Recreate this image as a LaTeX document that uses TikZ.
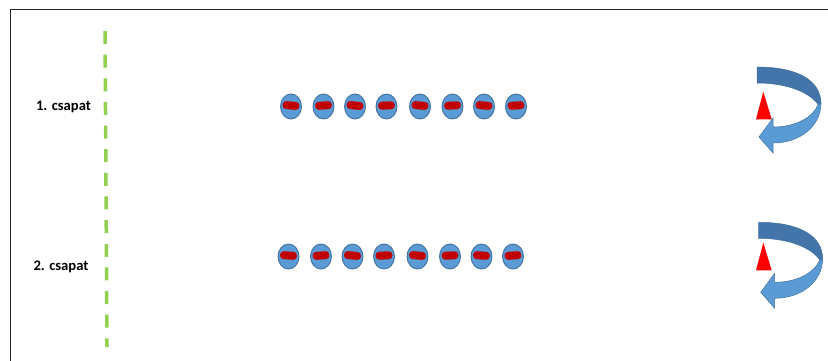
\documentclass[tikz,border=0pt]{standalone}
\usepackage{fontspec}
\setmainfont{Carlito}
\usetikzlibrary{shapes.geometric}
\definecolor{ballfill}{HTML}{5B9BD5}
\definecolor{balledge}{HTML}{41719C}
\definecolor{blobred}{HTML}{C00000}
\definecolor{arrdark}{HTML}{4475AA}
\definecolor{arrlight}{HTML}{5B9BD5}
\definecolor{arredge}{HTML}{41719C}
\definecolor{greenline}{HTML}{92D050}
\tikzset{
  ball/.style={ellipse, draw=balledge, fill=ballfill, line width=0.9pt, minimum width=21pt, minimum height=25pt, inner sep=0pt},
  blob/.style={fill=blobred, rounded corners=3.8pt},
  lbl/.style={font=\fontsize{14.6}{17}\selectfont\bfseries, inner sep=0pt},
  frameline/.style={draw=black!85, line width=1pt},
  divider/.style={draw=greenline, line width=3.5pt, dash pattern=on 13pt off 10.64pt},
  backband/.style={fill=arrdark, draw=arredge, line width=0.5pt},
  frontband/.style={fill=arrlight, draw=arredge, line width=0.5pt},
  marker/.style={fill=red}
}
\newcommand{\turnarrow}{%
  \path[backband] (757,67) .. controls (797,67) and (821,80) .. (821,104)
     -- (819,106) .. controls (812,94) and (790,83) .. (757,83) -- cycle;
  \path[frontband] (821,103) .. controls (821,126) and (800,143) .. (773,143)
     -- (773,153) -- (759,137) -- (773,118) -- (773,127)
     .. controls (795,127) and (812,118) .. (818,105) -- cycle;
}
\begin{document}
\begin{tikzpicture}[x=1pt,y=-1pt]
\useasboundingbox (0,0) rectangle (828,360);
\draw[frameline] (10,362) -- (10,9) -- (830,9);
\coordinate (dtop) at (105,31);
\coordinate (dbot) at (107,347);
\draw[divider] (dtop) -- (dbot);
\node[lbl] (l1) at (63.5,107) {1. csapat};
\node[lbl] (l2) at (61,267) {2. csapat};
% row 1
\foreach \x/\r [count=\i] in {291/-5,323.5/4,355/-6,386.5/3,420/-5,452.5/3,484/-5,516/4}{
  \node[ball] (a\i) at (\x,106.5) {};
  \fill[blob, rotate around={\r:(\x,105.5)}] (\x-8.5,101.5) rectangle (\x+8.5,109.5);
}
% row 2
\foreach \x/\r [count=\i] in {288.5/-4,321/4,352.5/-5,384/3,417.5/-5,450/3,481.5/-4,513/4}{
  \node[ball] (b\i) at (\x,256.5) {};
  \fill[blob, rotate around={\r:(\x,255.5)}] (\x-8.5,251.5) rectangle (\x+8.5,259.5);
}
% arrows
\turnarrow
\fill[marker] (763.3,91.7) -- (756,119.3) -- (771.7,119.3) -- cycle;
\begin{scope}[shift={(1.7,155.3)}]
\turnarrow
\end{scope}
\fill[marker] (763.3,242.7) -- (756,270.3) -- (771.7,270.3) -- cycle;
\end{tikzpicture}
\end{document}
